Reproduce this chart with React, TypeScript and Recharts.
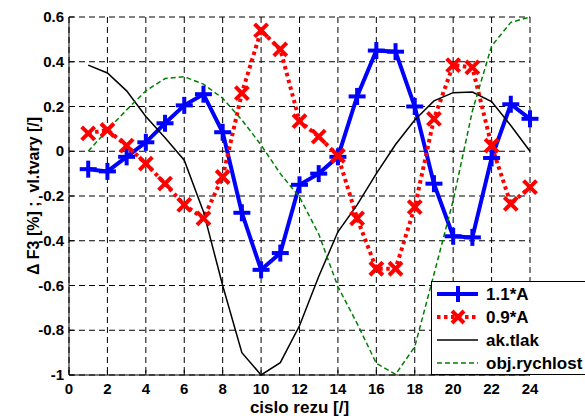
import React from 'react';
import { ComposedChart, Line, XAxis, YAxis, CartesianGrid, Legend } from 'recharts';

const FONT = '"Liberation Sans", Arial, sans-serif';

// cislo rezu 1..24
const cuts = [1, 2, 3, 4, 5, 6, 7, 8, 9, 10, 11, 12, 13, 14, 15, 16, 17, 18, 19, 20, 21, 22, 23, 24];

const a11 = [-0.08, -0.09, -0.025, 0.04, 0.125, 0.205, 0.255, 0.085, -0.275, -0.53, -0.455, -0.15,
  -0.1, -0.025, 0.245, 0.45, 0.445, 0.2, -0.145, -0.38, -0.385, -0.03, 0.21, 0.145];

const a09 = [0.08, 0.095, 0.025, -0.055, -0.145, -0.24, -0.3, -0.115, 0.26, 0.54, 0.455, 0.135,
  0.065, -0.02, -0.3, -0.525, -0.525, -0.25, 0.145, 0.385, 0.375, 0.025, -0.235, -0.16];

const akTlak = [0.385, 0.35, 0.27, 0.155, 0.06, -0.04, -0.27, -0.6, -0.9, -1.0, -0.945, -0.78,
  -0.56, -0.36, -0.24, -0.1, 0.03, 0.14, 0.225, 0.262, 0.265, 0.222, 0.115, 0.0];

const objRychlost = [0.0, 0.095, 0.185, 0.27, 0.325, 0.333, 0.3, 0.237, 0.14, 0.028, -0.1, -0.205,
  -0.37, -0.605, -0.77, -0.948, -0.997, -0.874, -0.55, -0.22, 0.18, 0.47, 0.576, 0.6];

const xTicks = [0, 2, 4, 6, 8, 10, 12, 14, 16, 18, 20, 22, 24];
const yTicks = [-1, -0.8, -0.6, -0.4, -0.2, 0, 0.2, 0.4, 0.6];

const data = cuts.map((c, i) => ({
  cut: c,
  a11: a11[i],
  a09: a09[i],
  tlak: akTlak[i],
  rychlost: objRychlost[i],
}));

const BLUE = '#0000FF';
const RED = '#FF0000';
const GREEN = '#008000';

const plusShape = (cx: number, cy: number, key: string, r = 8.5) => (
  <g key={key}>
    <line x1={cx - r} y1={cy} x2={cx + r} y2={cy} stroke={BLUE} strokeWidth={4} />
    <line x1={cx} y1={cy - r} x2={cx} y2={cy + r} stroke={BLUE} strokeWidth={4} />
  </g>
);

const crossShape = (cx: number, cy: number, key: string, r = 6.5) => (
  <g key={key}>
    <line x1={cx - r} y1={cy - r} x2={cx + r} y2={cy + r} stroke={RED} strokeWidth={4} />
    <line x1={cx - r} y1={cy + r} x2={cx + r} y2={cy - r} stroke={RED} strokeWidth={4} />
  </g>
);

const PlusDot = (props: any) => {
  const { cx, cy, index } = props;
  if (cx == null || cy == null) return <g key={`p${index}`} />;
  return plusShape(cx, cy, `p${index}`);
};

const CrossDot = (props: any) => {
  const { cx, cy, index } = props;
  if (cx == null || cy == null) return <g key={`x${index}`} />;
  return crossShape(cx, cy, `x${index}`);
};

const XTick = (props: any) => {
  const { x, y, payload } = props;
  return (
    <text x={x} y={y + 19} textAnchor="middle" fontFamily={FONT} fontSize={15} fontWeight="bold" fill="#000">
      {payload.value}
    </text>
  );
};

const YTick = (props: any) => {
  const { x, y, payload } = props;
  return (
    <text x={x} y={y + 5} textAnchor="end" fontFamily={FONT} fontSize={15} fontWeight="bold" fill="#000">
      {payload.value}
    </text>
  );
};

const NoTick = () => <g />;

const YLabel = (props: any) => {
  const vb = props.viewBox || { x: 0, y: 17, width: 69, height: 358 };
  const cx = vb.x + 33;
  const cy = vb.y + vb.height / 2;
  return (
    <text
      x={cx}
      y={cy}
      transform={`rotate(-90 ${cx} ${cy})`}
      textAnchor="middle"
      dominantBaseline="central"
      fontFamily={FONT}
      fontSize={16}
      fontWeight="bold"
      fill="#000"
    >
      {'Δ F3 [%] ;\u00A0\u00A0vl.tvary [/]'}
    </text>
  );
};

const legendItems = [
  { name: '1.1*A', color: BLUE, width: 4, dash: undefined, marker: 'plus' },
  { name: '0.9*A', color: RED, width: 4, dash: '3.5 3.5', marker: 'cross' },
  { name: 'ak.tlak', color: '#000', width: 1.5, dash: undefined, marker: '' },
  { name: 'obj.rychlost', color: GREEN, width: 1.5, dash: '5 3', marker: '' },
];

const LegendBox = () => (
  <svg width={154} height={94} style={{ display: 'block' }}>
    <rect x={0.5} y={0.5} width={170} height={93} fill="#fff" stroke="#000" />
    {legendItems.map((it, i) => {
      const y = 13 + i * 23;
      return (
        <g key={it.name}>
          <line x1={6} y1={y} x2={47} y2={y} stroke={it.color} strokeWidth={it.width} strokeDasharray={it.dash} />
          {it.marker === 'plus' && plusShape(27, y, 'lp', 8)}
          {it.marker === 'cross' && crossShape(27, y, 'lx', 6)}
          <text x={55} y={y + 6} fontFamily={FONT} fontSize={17} fontWeight="bold" fill="#000">
            {it.name}
          </text>
        </g>
      );
    })}
  </svg>
);

export default function App() {
  return (
    <div style={{ position: 'absolute', left: 0, top: 0, width: 585, height: 416, background: '#fff', overflow: 'hidden' }}>
      <ComposedChart width={585} height={416} data={data} margin={{ top: 17, right: 55, bottom: 0, left: 0 }}>
        <CartesianGrid stroke="#000" strokeDasharray="6 4" />
        <XAxis
          dataKey="cut"
          type="number"
          domain={[0, 24]}
          ticks={xTicks}
          interval={0}
          height={41}
          tickSize={-5}
          tickMargin={5}
          stroke="#000"
          tick={<XTick />}
          label={{ value: 'cislo rezu [/]', position: 'insideBottom', offset: 3, fill: '#000', fontSize: 17, fontWeight: 'bold', fontFamily: FONT }}
        />
        <XAxis
          xAxisId="top"
          orientation="top"
          type="number"
          domain={[0, 24]}
          ticks={xTicks}
          interval={0}
          height={0}
          tickSize={-5}
          stroke="#000"
          tick={<NoTick />}
        />
        <YAxis
          type="number"
          domain={[-1, 0.6]}
          ticks={yTicks}
          interval={0}
          width={69}
          tickSize={-5}
          tickMargin={10}
          stroke="#000"
          tick={<YTick />}
          label={{ content: <YLabel /> }}
        />
        <YAxis
          yAxisId="right"
          orientation="right"
          type="number"
          domain={[-1, 0.6]}
          ticks={yTicks}
          interval={0}
          width={0}
          tickSize={-5}
          stroke="#000"
          tick={<NoTick />}
        />
        <Line dataKey="a11" name="1.1*A" stroke={BLUE} strokeWidth={4} dot={PlusDot} activeDot={false} isAnimationActive={false} />
        <Line dataKey="a09" name="0.9*A" stroke={RED} strokeWidth={4} strokeDasharray="3.5 3.5" dot={CrossDot} activeDot={false} isAnimationActive={false} />
        <Line dataKey="tlak" name="ak.tlak" stroke="#000" strokeWidth={1.5} dot={false} activeDot={false} isAnimationActive={false} />
        <Line dataKey="rychlost" name="obj.rychlost" stroke={GREEN} strokeWidth={1.5} strokeDasharray="5 3" dot={false} activeDot={false} isAnimationActive={false} />
        <Legend
          layout="vertical"
          align="center"
          verticalAlign="middle"
          wrapperStyle={{ left: 431, top: 281, width: 154, height: 94 }}
          content={() => <LegendBox />}
        />
      </ComposedChart>
    </div>
  );
}
